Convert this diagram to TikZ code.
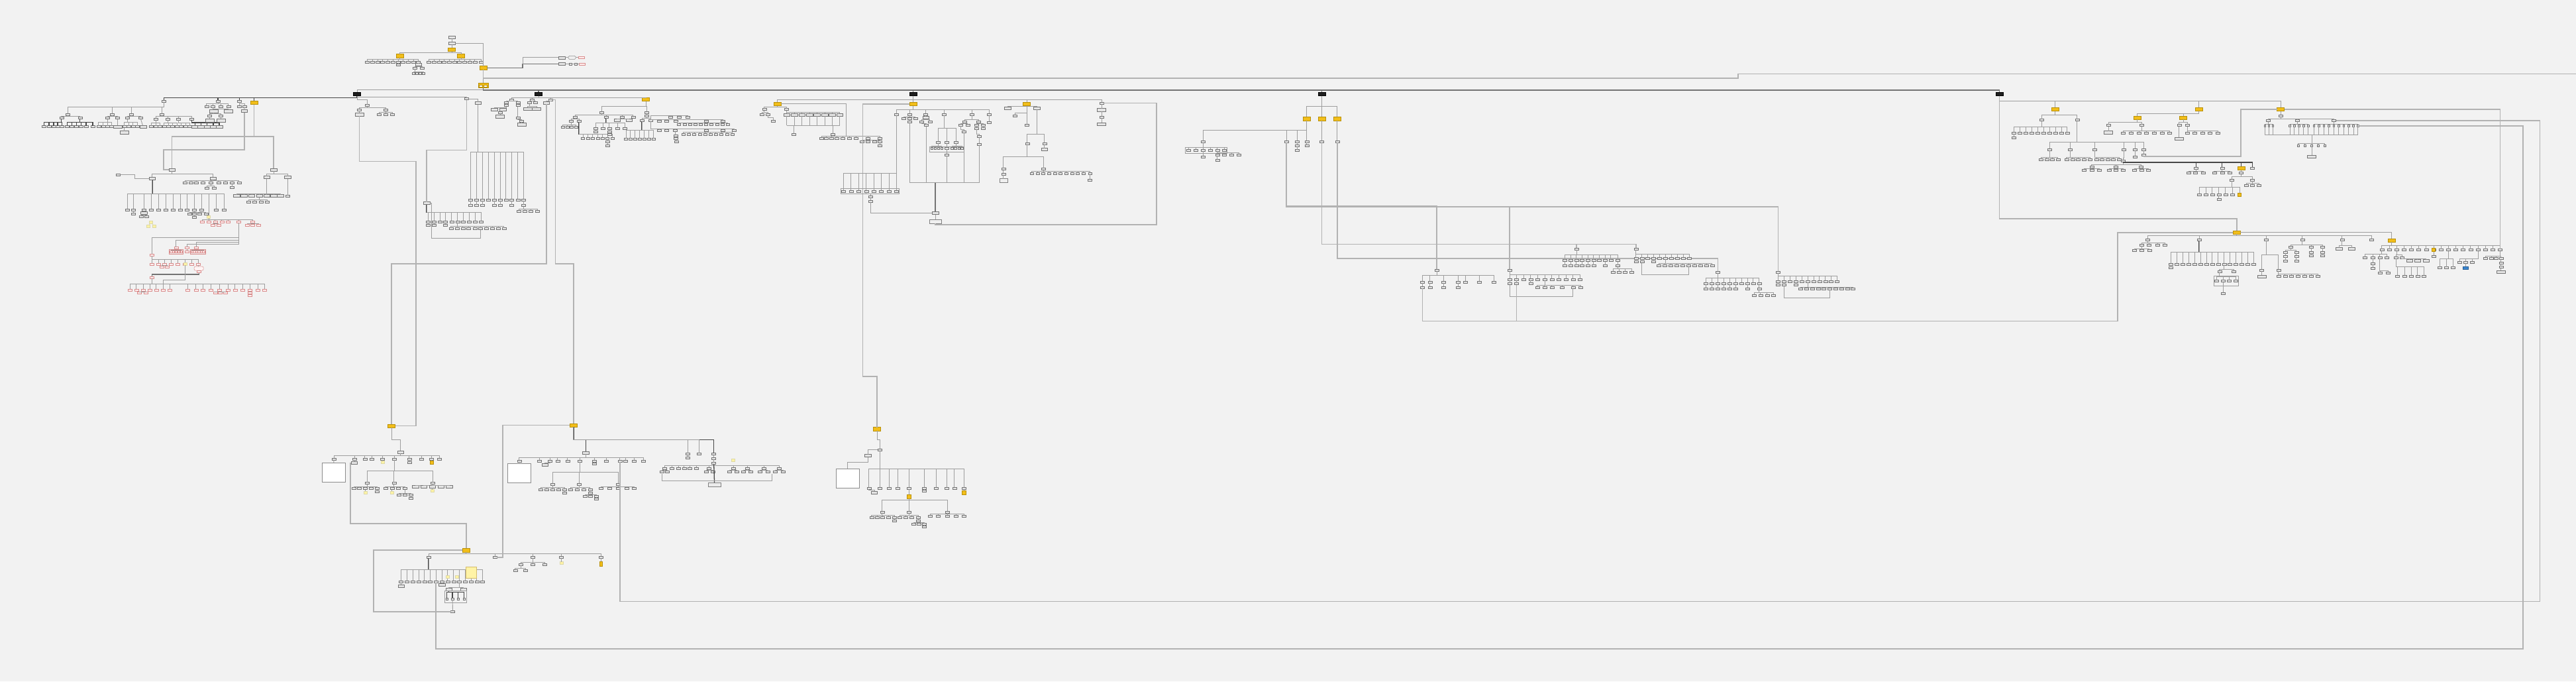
\documentclass[tikz,border=0pt]{standalone}
\definecolor{bgc}{HTML}{F2F2F2}
\definecolor{gold}{HTML}{F2BE1A}
\definecolor{goldd}{HTML}{B8900A}
\definecolor{paley}{HTML}{FFF3A6}
\definecolor{pinkb}{HTML}{D98C8C}
\definecolor{bluen}{HTML}{3A86D0}
\tikzset{
 base/.style={inner sep=0pt, outer sep=0pt, line width=0.5pt},
 sb/.style={base, draw=black!55, fill=black!10, minimum width=6pt, minimum height=3pt},
 wb/.style={sb, minimum width=9.5pt, minimum height=4pt},
 xb/.style={sb, minimum width=13pt, minimum height=4.5pt},
 pb/.style={base, draw=pinkb, fill=red!6, minimum width=6pt, minimum height=3pt},
 yb/.style={base, draw=goldd, fill=gold, minimum width=11pt, minimum height=5.5pt},
 ys/.style={base, draw=goldd, fill=gold, minimum width=5pt, minimum height=5pt},
 py/.style={base, draw=yellow!60!black!40, fill=paley, minimum width=5pt, minimum height=4pt},
 bk/.style={base, draw=black, fill=black!88, minimum width=11pt, minimum height=5.5pt},
 tbx/.style={base, draw=black!45, fill=white, minimum width=35pt, minimum height=29pt},
 ln/.style={draw=black!38, line width=0.9pt},
 dk/.style={draw=black!72, line width=1.3pt},
 lg/.style={draw=black!30, line width=1.6pt},
 md/.style={draw=black!55, line width=1.3pt},
}
\newcommand\kids[7][ln]{%
  \foreach \xx [count=\ii] in {#6}{%
    \node[#7] (#2-\ii) at (\xx,#5) {};
    \draw[#1] (#3) |- (\xx,#4) -- (#2-\ii);
  }}
\newcommand\vk[5][ln]{\node[#5] (#2) at (#4) {}; \draw[#1] (#3) -- (#2);}
\begin{document}
\begin{tikzpicture}[x=2.4802pt,y=-2.4802pt]
\fill[bgc] (0,0) rectangle (1568,414.48);
\useasboundingbox (0,0) rectangle (1568,414.48);
% ---------------- top
\node[wb] (t0) at (275,22.6) {};
\node[wb] (t1) at (275,26.2) {};
\node[yb] (ty) at (275,30.2) {};
\draw[ln] (t0)--(t1); \draw[ln] (t1)--(ty);
\kids{tk}{ty}{32.2}{34}{243.5,280.6}{yb}
\kids{tl}{tk-1}{36.2}{37.6}{223.5,226.7,229.8,232.9,236,239.1,242.3,245.4,248.5,251.6,254.7}{sb}
\kids{tr}{tk-2}{36.2}{37.6}{261.1,264.2,267.3,270.4,273.5,276.6,279.7,282.8,285.9,289,293}{sb}
\vk{tl7a}{tl-7}{242.3,39.6}{sb}
\vk{tlx1}{tl-11}{254.7,39.4}{wb}
\kids{tlx}{tlx1}{40.4}{41.3}{252.5,256.9}{sb}
\kids{tly}{tlx-1}{43.6}{44.8}{251.7,253.7,255.8,257.8}{sb,minimum width=4.5pt}
\node[yb] (tm) at (294.1,41.3) {};
\draw[ln] (t1) -| (tm);
\node[yb, minimum width=15pt, minimum height=7pt] (td) at (294.1,52) {};
\node[base,fill=white,draw=goldd,minimum width=5pt,minimum height=3pt] (td1) at (292.6,52.4) {};
\node[base,fill=white,draw=goldd,minimum width=5pt,minimum height=3pt] (td2) at (295.6,52.4) {};
\draw[ln] (tm) -- (td);
\coordinate (edgeR) at (1568,45);
\draw[lg] (tm) |- (1058,47.5) |- (edgeR);
\node[wb] (r1) at (342,35) {};
\node[base,draw=black!45,fill=black!6,rounded corners=1.5pt,minimum width=11pt,minimum height=5pt] (r1b) at (348.2,35) {};
\node[pb,minimum width=9pt,minimum height=3.5pt] (r1c) at (353.8,35) {};
\node[wb] (r2) at (342,39) {};
\node[sb,minimum width=4pt] (r2b) at (347.3,39) {};
\node[sb,minimum width=4pt] (r2c) at (350.6,39) {};
\node[pb,minimum width=9pt,minimum height=3.5pt] (r2d) at (354.4,39) {};
\coordinate (jtm) at (318.1,39);
\draw[md] (tm) -| (jtm) -- (r2);
\draw[ln] (jtm) |- (r1);
\draw[ln] (r1)--(r1b)--(r1c); \draw[ln] (r2)--(r2b)--(r2c)--(r2d);
% ---------------- main bus
\node[bk] (b1) at (217.3,57.2) {};
\node[bk] (b2) at (327.8,57.2) {};
\node[bk] (b3) at (555.8,57.2) {};
\node[bk] (b4) at (804.5,57.2) {};
\node[bk] (b5) at (1217,57.2) {};
\draw[ln] (td) |- (217.3,54.8) -- (b1);
\foreach \b/\x in {b2/327.8,b3/555.8,b4/804.5,b5/1217} {\draw[md] (td) |- (\x,54.8) -- (\b);}
% ---------------- B1 far left
\kids[dk]{fl}{b1}{59.4}{61.4}{99.8,132.7,145.8}{sb}
\node[yb] (y1) at (154.6,62.4) {};
\draw[dk] (b1) |- (154.6,59.4) -- (y1);
\kids{fa}{fl-1}{65.2}{69.6}{41.4,68.3,80,98.4}{sb}
\kids{fb}{fa-1}{70.6}{71.8}{37.4,48.7}{sb}
\kids[dk]{fc}{fb-1}{74.4}{77.1}{26.9,29.8,32.6,35.1,37.6}{sb}
\kids[dk]{fd}{fb-2}{74.4}{77.1}{41,43.8,46.6,49.4,52.4,56.5}{sb}
\kids{fe}{fa-2}{70.6}{71.8}{65.6,71.5}{sb}
\kids{ff}{fe-1}{74.4}{77.1}{60,62.8,65.4,68}{sb}
\vk{fg}{fe-2}{71.5,77.1}{xb}
\kids{fh}{fa-3}{70.6}{71.8}{77.7,85.5}{sb}
\kids{fi}{fh-1}{74.4}{77.1}{75.7,78.4,81,83.6}{sb}
\vk{fi1a}{fi-1}{75.7,80.6}{xb}
\vk{fj}{fh-2}{87.1,77.1}{wb}
\kids{fk}{fa-4}{70.8}{72.3}{94.9,102.2,108.6,116.7}{sb}
\kids{fm}{fk-1}{74.6}{77.1}{92.2,94.8,97.4}{sb}
\kids{fn}{fk-2}{74.6}{77.1}{99.9,102.5,105.1,107.7}{sb}
\kids{fo}{fk-3}{74.6}{77.1}{110.3,112.9,115.5}{sb}
\kids[dk]{fp}{fk-4}{74.6}{77.1}{118.7,122.3,126.1,129.8,133.5}{wb}
\kids{fq}{fl-2}{63.2}{64.8}{125.7,129.7,134.4,139}{sb}
\kids{fr}{fq-2}{66.3}{67.6}{130.1,138.8}{xb}
\kids{fs}{fr-1}{69.2}{70.5}{127.7,134.4}{sb}
\vk{ft1}{fs-1}{127.7,73.2}{xb}
\vk{ft2}{fs-2}{134.4,73.2}{xb}
\kids{fu}{fl-3}{63.2}{64.8}{145.8,148.8}{sb}
\vk{fv}{fu-2}{148.7,67.6}{wb}
\node[wb] (n1) at (104.7,103.3) {};
\node[wb] (n2) at (166.6,103.3) {};
\draw[lg] (fv) |- (99.7,91.1) |- (n1);
\draw[lg] (y1) |- (104.7,83) -- (n1);
\draw[lg] (y1) |- (166.6,83) -- (n2);
% region under n1
\kids{nk}{n1}{106}{108.6}{92.7,129.7}{wb}
\node[sb] (l0) at (71.9,106.4) {};
\draw[ln] (l0) -| (82,108.6) -- (nk-1);
\draw[dk] (nk-1) -- (92.7,118);
\kids{na}{nk-1}{118}{127.7}{77.7,81.3,87.6,92,96.5,100.8,105.5,109.7,114,118.3,122.6,131.7,136.4}{sb}
\vk{na2a}{na-2}{81.3,130.1}{sb}
\vk{na3a}{na-3}{87.6,129.6}{wb}
\kids{na3b}{na3a}{130.8}{131.6}{86,89.4}{sb}
\kids{naxa}{na-10}{129}{130.1}{115.6,118.3,121.6,125.3}{sb}
\vk{naxb}{naxa-2}{118.3,132}{sb}
\kids{a3}{nk-1}{118}{132}{127}{py}
\node[py] (pyt1) at (92,135.3) {};
\node[py] (pyt2) at (90.2,137.4) {};
\node[py] (pyt3) at (93.8,137.4) {};
\draw[ln,draw=yellow!50!black!30] (pyt1)--(pyt2) (pyt1)--(pyt3);
\kids{nb}{nk-2}{110}{111.3}{112.5,116.2,119.6,123.6,128.3,133,137.1,141.4,145.5}{sb}
\kids{nb5}{nb-5}{113.2}{114.5}{126,130.4}{sb}
\vk{nb8}{nb-8}{141.4,114.2}{sb}
\kids{nm}{n2}{105.9}{107.9}{162.3,175}{wb}
\draw[dk] (nm-1) -- (162.3,117.8);
\kids{nn}{nm-1}{117.8}{119.2}{144.1,148.5,153.2,157.9,162.3,166.6,170.6}{wb}
\kids{no}{nn-4}{121.6}{123}{151.2,155,158.8,162.6}{sb}
\vk{np}{nm-2}{175,119.4}{sb}
% pink part
\kids{pk}{a3-1}{133.6}{134.9}{123,127,131,135,138.8,145.2,153.9}{pb}
\kids{pk3}{pk-3}{136}{136.9}{129.5,133}{pb}
\kids{pk7}{pk-7}{136}{136.9}{150.5,153.9,157.3}{pb}
\node[pb] (q0) at (92.5,155.2) {};
\node[pb] (q1) at (107.2,150.8) {};
\node[pb] (q2) at (114,150.8) {};
\node[pb] (q3) at (119.6,150.8) {};
\draw[ln] (pk-6) |- (92.5,144.6) -- (q0);
\draw[ln] (pk-6) |- (107.2,146) -- (q1);
\draw[ln] (pk-6) |- (119.6,147.4) -- (q3);
\draw[ln] (pk-6) |- (114,148.6) -- (q2);
\kids{qa}{q1}{152.1}{153.2}{104.1,105.6,107.2,108.8,110.3}{pb,minimum width=3.5pt}
\draw[ln,draw=pinkb] (103,151.6) rectangle (111.4,154.4);
\kids{qc}{q3}{152.1}{153.2}{116.9,118.3,119.7,121.1,122.5,123.9}{pb,minimum width=3.5pt}
\draw[ln,draw=pinkb] (115.8,151.6) rectangle (125,154.4);
\vk{qb}{q2}{114,153.2}{pb}
\draw[dk] (q0) -- (92.5,157.9);
\kids{qk}{q0}{157.9}{160.6}{92.5,96.5,100.1,104.1,108.2,112.6,116.7,120.7}{pb}
\node[py] (qk6y) at (112.6,160.6) {};
\kids{qk3}{qk-3}{161.6}{162.5}{98.4,101.8}{pb}
\node[base,draw=pinkb,fill=red!4,rounded corners=2pt,minimum width=14pt,minimum height=6pt] (qe) at (121,163.3) {};
\draw[ln] (qk-8) -- (qe);
\vk{qf}{qe}{121.2,165.4}{pb}
\node[pb] (q4) at (92.5,168.7) {};
\draw[md] (qf) |- (92.5,166.9) -- (q4);
\draw[dk] (q4) -- (92.5,172.7);
\kids{qq}{q4}{172.7}{176.5}{79.3,83,87.3,91.1,95.1,99.2,103.5,114.2,119.3,123.6,128.3,133.7,138.7,143.1,147.6,152.1,156.9,161}{pb}
\draw[ln] (qk6y) |- (99.2,170.5) -- (qq-6);
\kids{qq3}{qq-3}{177.5}{178.3}{84.9,88.7}{pb}
\kids{qq12}{qq-12}{177.5}{178.3}{131,134.1,137.2}{pb}
\vk{qq16a}{qq-16}{152.1,178.3}{pb}
\vk{qq16b}{qq16a}{152.1,179.9}{pb}
% ---------------- B1 right children
\kids{c}{b1}{60.7}{64.2}{223.5}{sb}
\kids{ck}{c-1}{65.4}{66.8}{218.7,234.8}{sb}
\vk{ck1a}{ck-1}{218.7,69.6}{xb}
\kids{ck2}{ck-2}{68.3}{69.5}{230.8,234.8,238.8}{sb}
\node[yb] (yl) at (238.3,259.1) {};
\draw[lg] (ck1a) |- (253.1,98.1) |- (yl);
\kids{d}{b1}{58.9}{60.1}{284}{sb}
\node[wb] (d2) at (290.9,62.7) {};
\draw[ln] (d-1) -| (d2);
\node[wb] (fnd) at (259.7,123.6) {};
\draw[lg] (d-1) |- (259.7,91.4) -- (fnd);
\draw[dk] (d2) -- (290.9,92.5);
\kids{dd}{d2}{92.5}{121.6}{286.5,290,293.7,297.3,300.8,304.4,308,311.5,315.2,318.8}{sb}
\foreach \i/\x in {1/286.5,2/290,3/293.7,5/300.8,6/304.4,8/311.5} {\vk{dds\i}{dd-\i}{\x,125}{sb}}
\vk{dd10a}{dd-10}{318.8,125}{sb}
\kids{ddt}{dd10a}{127}{128.6}{315.9,319.6,323.2,327}{sb}
\draw[dk] (fnd) -- (259.7,129.4);
\kids{g}{fnd}{129.4}{134.8}{260.7,264.1,267.7,271.2,274.9,278.5,282,285.6,289.2,293}{sb}
\vk{g1a}{g-1}{260.7,136.8}{sb}
\vk{g2a}{g-2}{264.1,136.8}{sb}
\vk{g4a}{g-4}{271.2,136.8}{sb}
\draw[dk] (g-6) -- (278.5,137.6);
\kids{gg}{g-6}{137.6}{139.1}{274.5,278.2,281.8,285.3,289,292.6,296.1,299.7,303.3,306.8}{sb}
\draw[ln] (fnd.east) -| (262.5,145.1) -| (gg-6);
% ---------------- B2
\kids{e}{b2}{59.3}{60.6}{311.4,324,335.1}{sb}
\kids{ea}{e-1}{61.5}{62.5}{308.2,315.2}{sb}
\vk{ea1b}{ea-1}{308.2,64.2}{sb}
\kids{eb}{ea1b}{65.4}{66.5}{300.8,306.2}{wb}
\kids{ec}{eb-2}{67.6}{68.5}{304.4}{sb}
\vk{ed}{ec-1}{304.4,70.8}{xb}
\vk{ea2b}{ea-2}{315.2,64.2}{sb}
\vk{ea2c}{ea2b}{315.2,71.5}{sb}
\kids{ea2d}{ea2c}{72.6}{73.5}{317.5}{sb}
\vk{ea2e}{ea2d-1}{317.5,75.7}{xb}
\kids{ef}{e-2}{61.5}{62.5}{322.2,326}{sb}
\kids{eg}{ef-1}{64.8}{66.2}{321.2,326.6}{xb}
\kids{e3b}{e-3}{61.6}{62.6}{332.6}{wb}
\draw[lg] (e3b-1) |- (238.3,160.5) -- (yl);
\node[yb] (ym) at (349.1,258.7) {};
\draw[lg] (e-3) -| (338,160.5) -| (ym);
% ---------------- Y2
\node[yb] (y2) at (393.2,60.4) {};
\draw[ln] (b2) |- (393.2,59.3) -- (y2);
\kids{h}{y2}{64.8}{68.5}{366.2,393.8}{sb}
\kids{ha}{h-1}{70}{71.1}{350.1,368.9,378.7,385.4}{sb}
\kids{hb}{ha-1}{72.4}{73.5}{347.8,352.4}{sb}
\kids{hc}{hb-1}{75.9}{77.3}{342.6,345.3,348,350.7}{sb,minimum width=5pt}
\draw[dk] (hb-2) -- (352.4,81.7);
\kids{hd}{hb-2}{81.7}{84.1}{354.8,357.8,360.8,363.8,366.8,369.8,372.8}{sb,minimum width=5pt}
\vk{hd6a}{hd-6}{369.8,86.3}{sb}
\vk{hd6b}{hd6a}{369.8,88.4}{sb}
\draw[dk] (ha-2) -- (368.9,74.6);
\kids{he}{ha-2}{74.6}{78.2}{362.6,366.9,370.9,376,380.3}{sb}
\vk{he1a}{he-1}{362.6,80}{sb}
\vk{he3a}{he-3}{370.9,80}{sb}
\vk{he3b}{he3a}{370.9,81.8}{sb}
\kids{hf}{ha-3}{72.2}{73.2}{375.6,383}{wb}
\vk{hg}{h-2}{393.8,70.5}{sb}
\kids{hh}{hg}{72}{73.2}{390.7,396.1}{sb}
\draw[dk] (hh-1) -- (390.7,79.3);
\kids{hi}{hh-1}{79.3}{84.7}{381,383.8,386.6,389.4,392.2,395,397.8}{sb,minimum width=5pt}
\kids{hj}{hh-2}{72.6}{73.5}{401.2,405.9,411.2,430,440.1}{sb}
\kids{hk}{hj-4}{74.7}{75.7}{413.3,416.6,419.9,423.2,426.5,429.8,433.1,436.4,439.7,443}{sb,minimum width=5pt}
\kids{hl}{hh-2}{78.5}{79.5}{401.2,405.9,411,430,440.1,447}{sb}
\kids{hm}{hl-4}{80.6}{81.6}{416,419.3,422.6,425.9,429.2,432.5,435.8,439.1,442.4,445.7}{sb,minimum width=5pt}
\vk{hn1}{hl-3}{411.2,82.6}{sb}
\vk{hn2}{hn1}{411.2,84.2}{sb}
\vk{hn3}{hn2}{411.6,86}{sb}
\kids{ho}{hh-2}{70.3}{71.2}{408.3,413.3,418.6}{sb}
% ---------------- B3
\kids{b3k}{b3}{60.7}{63.2}{473.3,555.8,625}{yb}
\kids{k}{b3}{60.7}{62.7}{670.5}{sb}
\kids{ia}{b3k-1}{65.2}{66.6}{465.2,478.8}{sb}
\kids{ib}{ia-1}{68.4}{69.5}{463.7,467.5}{sb}
\kids{ic}{ib-2}{71.5}{73.6}{470.6}{sb}
\draw[dk] (ia-2) -- (478.8,68.3);
\kids{id}{ia-2}{68.3}{69.7}{478.8,483.5,488.1,492.7,497.3,502,506.6,511.2}{wb}
\coordinate (idbL) at (478.8,76.3);
\coordinate (idbR) at (511.2,76.3);
\draw[dk] (idbL) -- (idbR);
\foreach \i in {1,...,8} {\draw[ln] (id-\i) |- (idbL);}
\kids{ie}{id-2}{76.3}{81.7}{483}{sb}
\kids{if}{id-7}{76.3}{81.7}{506.9}{sb}
\kids{ig}{if-1}{83}{84.1}{500,503,506.1,509.5,513.1,517,521.1,528.2,535.5}{sb}
\kids{ih}{ig-8}{85.3}{86.3}{524.6,528.4,532.4,535.5}{sb}
\vk{ih4a}{ih-4}{535.5,88.4}{sb}
\coordinate (igb) at (515.1,83);
\draw[ln] (b3k-1) -| (igb);
\node[yb] (yr2) at (533.8,261) {};
\draw[lg] (b3k-2) -| (525.1,229) -| (yr2);
\kids{ja}{b3k-2}{66.6}{69.6}{545.8,553.7,563.5,574.7,591.5,602.1}{sb}
\draw[dk] (ja-1) |- (513.5,105.5);
\kids{jb}{ja-1}{105.5}{116.4}{513.5,518,522.8,527.3,531.9,536.5,541.2,545.8}{sb}
\draw[ln] (511.8,114.8) rectangle (547.5,118);
\kids{jc}{jb-4}{118}{119.6}{529.8}{sb}
\vk{jc2}{jc-1}{529.8,122.3}{sb}
\node[wb] (jz1) at (569.3,129.7) {};
\node[base,draw=black!50,fill=black!6,minimum width=18pt,minimum height=6.5pt] (jz2) at (569.3,134.7) {};
\draw[ln] (jc2) |- (jz1);
\kids{jd}{ja-2}{71}{71.9}{550.1,553.7,557.1}{sb}
\vk{jd2a}{jd-2}{553.7,73.9}{sb}
\vk{je}{ja-3}{563.5,71.6}{wb}
\kids{jf}{je}{72.8}{73.9}{560.9,566}{sb}
\kids{jg}{jf-1}{75.2}{76.3}{563.7}{sb}
\kids{jh}{ja-4}{77.9}{86.4}{571,576.4,581.8}{sb}
\kids{ji}{jh-1}{88.8}{90.3}{567.1,569.1,571.3,573.3}{sb,minimum width=3.5pt}
\vk{jj}{jh-2}{576.4,90.3}{sb}
\kids{jk}{jh-3}{88.8}{90.3}{579.5,581.5,583.8,585.6}{sb,minimum width=3.5pt}
\draw[ln] (566,89.2) rectangle (587,92.5);
\vk{jl}{jj}{576.4,94.1}{sb}
\kids{jm}{ja-5}{72.6}{73.9}{587.2,595.6}{sb}
\kids{jn}{jm-1}{75}{75.9}{584.8,589}{sb}
\kids{jo}{jn-1}{78.8}{80.2}{586.9}{sb}
\kids{jp}{jm-2}{75}{76.1}{594.3,598.4}{sb}
\vk{jp1}{jp-1}{594.3,78.2}{sb}
\vk{jp2}{jp-2}{598.4,78.2}{sb}
\kids{jq}{jp1}{81.5}{83}{596}{sb}
\vk{jr}{jq-1}{596,87.7}{sb}
\vk{js}{ja-6}{602.1,74.3}{sb}
\coordinate (jb0) at (569.3,111.1);
\foreach \n in {jd2a,jg-1,jl,jo-1,jr} {\draw[ln] (\n) |- (jb0);}
\draw[md] (jb0) -- (jz1);
\draw[ln] (jz1) -- (jz2);
\draw[lg] (k-1) -| (704,136.8) -| (jz2);
\kids{l}{b3k-3}{64.6}{65.8}{613.4,631.1}{wb}
\kids{l3}{b3k-3}{68.8}{70.3}{617.7}{sb}
\vk{l4}{b3k-3}{625,76.2}{sb}
\draw[dk] (l-2) -- (631.1,81.7);
\kids{lm}{l-2}{81.7}{87.3}{625.3,635.8}{sb}
\vk{lm2a}{lm-2}{635.8,91}{wb}
\kids{lo}{lm-1}{95.4}{102.9}{610.8,635.3}{sb}
\vk{lo1a}{lo-1}{610.8,105.9}{sb}
\node[base,draw=black!50,fill=black!6,minimum width=12pt,minimum height=6pt] (lo1b) at (610.8,109.9) {};
\draw[ln] (lo1a)--(lo1b);
\kids{lp}{lo-2}{104.2}{105.4}{628,631.5,635,638.5,642,645.5,649,652.5,656,659.5,663.4}{sb,minimum width=5pt}
\vk{lp11}{lp-11}{663.4,109.5}{sb}
\vk{k2}{k-1}{670.5,66.9}{xb}
\vk{k3}{k2}{670.5,71.2}{sb}
\vk{k4}{k3}{670.5,75.5}{xb}
% ---------------- B4
\kids{m}{b4}{64.8}{72.2}{795.4,804.5,814}{yb}
\draw[dk] (m-1) -- (795.4,79.3);
\kids{ma}{m-1}{79.3}{86}{732.4,783,789.6,795.4}{sb}
\draw[dk] (ma-1) -- (732.4,89.5);
\kids{mb}{ma-1}{89.5}{91.5}{723.5,728,732.4,736.6,741,745.2}{sb}
\vk{mb3a}{mb-3}{732.4,95.4}{sb}
\kids{mc}{mb-5}{93.1}{94.3}{741,745.2,749.7,754.2}{sb}
\vk{mc1a}{mc-1}{741,97.6}{sb}
\draw[ln] (721.5,89.8) rectangle (747,93.3);
\vk{ma3a}{ma-3}{789.6,88.7}{sb}
\vk{ma3b}{ma3a}{789.6,91.6}{sb}
\vk{ma4a}{ma-4}{795.4,88.7}{sb}
\vk{mm}{m-2}{804.5,86}{sb}
\vk{mn}{m-3}{814,86}{sb}
\node[sb] (na0) at (874.6,164.2) {};
\node[sb] (nb0) at (918.9,164.2) {};
\node[sb] (nc0) at (959.6,151.5) {};
\node[sb] (nd0) at (995.8,151.5) {};
\node[sb] (ne0) at (1082.3,165.7) {};
\node[sb] (nf0) at (1045.6,165.7) {};
\draw[lg] (ma-2) |- (874.6,125.4) -- (na0);
\draw[lg] (ma-2) |- (918.9,125.6) -- (nb0);
\draw[lg] (ma-2) |- (1082.3,125.9) -- (ne0);
\draw[lg] (mm) |- (959.6,148.5) -- (nc0);
\draw[lg] (mm) |- (995.8,148.5) -- (nd0);
\draw[lg] (mn) |- (1045.6,157.2) -- (nf0);
\kids{naa}{na0}{167.7}{171.6}{865.9,870.4,878.8,887.4,891.9,900.6,909.2}{sb}
\foreach \i/\x in {1/865.9,2/870.4,3/878.8,4/887.4} {\vk{nas\i}{naa-\i}{\x,174.7}{sb}}
\kids{nba}{nb0}{167.3}{170.1}{918.9,923.1,927.4,931.7,936,940.3,944.6,948.9,953.2,957.5,961.8}{sb}
\vk{nbs1}{nba-1}{918.9,172.6}{sb}
\vk{nbs2}{nba-2}{923.1,172.6}{sb}
\vk{nbs4}{nba-4}{931.7,172.6}{sb}
\kids{nbb}{nba-6}{173.4}{174.7}{935.7,940.2,944.6,950.9,957.5,962}{sb}
\draw[ln] (nbs1) |- (957.5,180.4) -- (nbb-5);
\kids{nca}{nc0}{155}{158.5}{952.5,956,959.5,963,966.5,970,973.5,977,980.5,984.8}{sb}
\foreach \i/\x in {1/952.5,2/956,3/959.5,4/963,5/966.5,6/970,8/977} {\vk{ncs\i}{nca-\i}{\x,161.7}{sb}}
\vk{ncs10}{nca-10}{984.8,161.7}{sb}
\kids{nct}{ncs10}{163.6}{165.6}{981.9,985.5,989.2,993.1}{sb}
\kids{nda}{nd0}{154.6}{157.1}{995.8,999.4,1003,1006.6,1010.2,1013.8,1017.4,1021,1024.6,1028.1}{sb}
\vk{nds1}{nda-1}{995.8,159.3}{sb}
\vk{nds2}{nda-2}{999.4,159.3}{sb}
\vk{nds4}{nda-4}{1006.6,159.3}{sb}
\kids{ndb}{nda-6}{160.4}{161.5}{1009.7,1013.3,1017,1020.6,1024.1,1027.8,1031.5,1034.9,1038.6,1042.2}{sb}
\draw[ln] (nds2) |- (1027.8,167.3) -- (ndb-6);
\kids{nfa}{nf0}{169}{172.4}{1038.3,1042,1045.6,1049.2,1052.8,1056.4,1060,1063.6,1067.2,1070.8}{sb}
\foreach \i/\x in {1/1038.3,2/1042,3/1045.6,4/1049.2,5/1052.8,6/1056.4,8/1063.6} {\vk{nfs\i}{nfa-\i}{\x,175.5}{sb}}
\vk{nfs10}{nfa-10}{1070.8,175.5}{sb}
\kids{nft}{nfs10}{178}{179.7}{1067.7,1071.6,1075.6,1079.5}{sb}
\kids{nea}{ne0}{168}{171.2}{1082.3,1085.9,1089.5,1093.1,1096.7,1100.3,1103.9,1107.5,1111.1,1114.7,1118.2}{sb}
\vk{nes1}{nea-1}{1082.3,173.4}{sb}
\vk{nes2}{nea-2}{1085.9,173.4}{sb}
\vk{nes4}{nea-4}{1093.1,173.4}{sb}
\kids{neb}{nea-6}{174.6}{175.7}{1096,1099.6,1103.1,1106.7,1110.2,1113.8,1117.3,1120.8,1124.4,1128}{sb}
\draw[ln] (nes2) |- (1113.8,181.4) -- (neb-6);
\node[yb] (yr) at (1361.5,141.4) {};
\coordinate (botc) at (1289,195.3);
\draw[lg] (nas1) |- (botc) |- (yr);
\draw[lg] (nbs2) |- (botc);
% ---------------- B5
\kids{o}{b5}{61.4}{66.5}{1250.8,1338.3,1388.2}{yb}
\draw[lg] (b5) |- (1361.5,133) -- (yr);
\kids{oa}{o-1}{69.9}{73}{1242.7,1264.3}{sb}
\draw[dk] (oa-1) -- (1242.7,77.3);
\kids{ob}{oa-1}{77.3}{81}{1225.9,1229.5,1233.1,1236.7,1240.3,1243.9,1247.5,1251.1,1254.7,1258.3}{sb}
\vk{ob1a}{ob-1}{1225.9,83.7}{sb}
\kids{oc}{oa-2}{86.4}{91.1}{1247.5,1260.2,1275,1292.8,1299.6,1305}{sb}
\kids{od}{oc-1}{95.6}{97}{1242.4,1245.8,1249.2,1252.6}{sb}
\kids{oe}{oc-2}{95.6}{97}{1257.9,1261.5,1265,1268.6,1272.2}{sb}
\kids{of}{oc-3}{95.6}{97}{1276.2,1279.6,1283,1286.4,1289.8}{sb}
\kids{og}{oc-4}{96}{97.8}{1292.3}{sb}
\kids{oh}{og-1}{100}{101.5}{1273.2,1288,1303.2}{sb}
\kids{oi1}{oh-1}{102.6}{103.6}{1268.6,1273.2,1277.8}{sb}
\kids{oi2}{oh-2}{102.6}{103.6}{1283.8,1288,1292.2}{sb}
\kids{oi3}{oh-3}{102.6}{103.6}{1299.2,1303.4,1307.6}{sb}
\kids[dk]{oj}{og-1}{98.8}{102.4}{1336.8,1352.6,1370.9}{sb}
\kids[dk]{ojy}{og-1}{98.8}{102.4}{1364.1}{yb}
\kids{ok1}{oj-1}{104.2}{105.2}{1332.2,1336.4,1341.2}{sb}
\kids{ok2}{oj-2}{104.2}{105.2}{1347.8,1352.6,1357.4}{sb}
\vk{ol}{ojy-1}{1364.1,105.3}{sb}
\kids{om}{ol}{107.5}{109.5}{1358.4,1371.1}{sb}
\draw[dk] (om-1) -- (1358.4,113.9);
\kids{on}{om-1}{113.9}{118.5}{1338.6,1342.6,1346.6,1350.6,1354.6,1358.8}{sb}
\kids{ony}{om-1}{113.9}{118.5}{1363.2}{ys}
\vk{on4a}{on-4}{1350.6,121.2}{sb}
\kids{oo}{om-2}{111.5}{112.6}{1367.3,1371.1,1374.9}{sb}
\vk{op}{oc-5}{1299.6,95.4}{sb}
\vk{oq}{oc-6}{1305,94.2}{sb}
\draw[lg] (oq) |- (1364,95.2) |- (o-3);
\kids{p}{o-2}{69}{71.6}{1300.9,1328.9}{yb}
\kids{pa}{p-1}{74.5}{76.3}{1283.4,1303.5}{sb}
\vk{pa1a}{pa-1}{1283.4,80.6}{xb}
\kids{pq}{pa-2}{79.7}{81}{1292.5,1297.2,1301.9,1306.6,1311.3,1316,1320.7}{sb}
\kids{pc}{p-2}{74.5}{76.3}{1326.4,1331.4}{sb}
\vk{pc1a}{pc-1}{1326.4,84.3}{xb}
\draw[dk] (pc-2) -- (1331.4,79.7);
\kids{pd}{pc-2}{79.7}{81}{1331.4,1336,1340.6,1345.2,1350}{sb}
\vk{ra0}{o-3}{1388.2,70.3}{sb}
\kids{ra}{ra0}{72.2}{73.4}{1380.5,1398.4,1420.7}{sb}
\kids{rb}{ra-1}{75.4}{76.6}{1378.5,1381,1383.5}{sb,minimum width=2.5pt}
\kids{rc}{ra-2}{75.4}{76.6}{1393.8,1396.6,1399.4,1402.2,1405}{sb,minimum width=2.5pt}
\kids{rd}{ra-3}{75.4}{76.6}{1408.5,1411.5,1414.5,1417.5,1420.5,1423.5,1426.5,1429.5,1432.5,1435.3}{sb,minimum width=2.5pt}
\coordinate (rbl) at (1378.5,82.2);
\coordinate (rbr) at (1435.3,82.2);
\draw[ln] (rbl) -- (rbr);
\foreach \n in {rb-1,rb-2,rb-3,rc-1,rc-2,rc-3,rc-4,rc-5,rd-1,rd-2,rd-3,rd-4,rd-5,rd-6,rd-7,rd-8,rd-9,rd-10} {\draw[ln] (\n) |- (rbl);}
\coordinate (re0) at (1407.2,82.2);
\kids{rf}{re0}{87.3}{88.5}{1399,1402.9,1407.2,1411,1414.9}{sb,minimum width=3pt}
\vk{rg}{rf-3}{1407.2,95.3}{xb}
% yr subtree
\kids{s}{yr}{143.5}{145.8}{1307.3,1338.6,1379.3,1401.4,1425.6,1443.4}{sb}
\node[yb] (ys) at (1455.6,146.2) {};
\draw[ln] (yr) -| (ys);
\kids{sa}{s-1}{147.8}{149}{1303.5,1308.1,1313.2,1317.7}{sb}
\kids{sbb}{sa-1}{151.4}{152.5}{1299.2,1303.7,1308.3}{sb}
\draw[dk] (s-2) -- (1338.6,153.5);
\kids{sc}{s-2}{153.5}{160.6}{1321.5,1325.1,1328.7,1332.3,1335.8,1339.4,1343,1346.6,1350.2,1353.8,1357.3,1360.9,1364.5,1368.1,1371.7}{sb}
\vk{sc1a}{sc-1}{1321.5,162.9}{sb}
\kids{sd}{sc-10}{163.8}{165.3}{1351,1359.6}{sb}
\draw[dk] (sd-1) -- (1351,168.5);
\kids{se}{sd-1}{168.5}{171}{1349.3,1353.2,1357,1360.8}{sb}
\draw[ln] (1347.5,167.8) rectangle (1362.6,173.8);
\kids{sf}{se-2}{176.6}{178.5}{1353.3}{sb}
\kids{sg}{s-3}{155.2}{164.2}{1376.7,1386.9}{sb}
\vk{sg1a}{sg-1}{1376.7,168.3}{xb}
\kids{sh}{sg-2}{166.8}{168}{1386.9,1390.9,1394.9,1398.9,1402.9,1406.9,1411}{sb}
\kids{si}{s-4}{148.9}{150.1}{1394.5,1406.8,1413.6}{sb}
\kids{sj}{si-1}{152.3}{153.6}{1391.2,1397.8}{sb}
\vk{sj1}{sj-1}{1391.2,156}{sb}
\vk{sj2}{sj-2}{1397.8,156}{sb}
\vk{sj3}{sj1}{1391.2,158.9}{sb}
\vk{sj4}{sj2}{1397.8,158.9}{sb}
\vk{sk1}{si-2}{1406.8,153.6}{sb}
\vk{sk2}{sk1}{1406.8,155.7}{sb}
\vk{sl1}{si-3}{1413.6,153.6}{sb}
\vk{sl2}{sl1}{1413.6,155.7}{sb}
\kids{sm}{s-5}{149.4}{151.4}{1423.8,1431.4}{wb}
\draw[dk] (ys) -- (1455.6,149.2);
\kids{st}{ys}{149.2}{152.1}{1449.8,1454.3,1458.8,1463.3,1467.8,1472.3,1476.8,1481.3,1485.8,1490.3,1494.8,1499.3,1503.8,1508.3,1512.8,1517.3,1521.8}{sb}
\node[ys] (sty) at (1481.3,152.1) {};
\kids{su}{st-1}{154.5}{156.8}{1439.6,1444.2,1448.6,1452.8}{sb}
\vk{su2a}{su-2}{1444.2,160.2}{sb}
\vk{su2b}{su2a}{1444.2,163}{sb}
\kids{sv}{su-3}{164.7}{166}{1448.9,1453.5}{sb}
\kids{sw}{st-3}{155}{156.8}{1458.4,1462.2}{sb}
\draw[dk] (sw-1) -- (1458.4,162.3);
\kids{sx}{sw-1}{162.3}{168}{1459.4,1463.7,1467.8,1471.6,1475.4}{sb}
\kids{sy}{sw-2}{157.6}{158.6}{1466.6,1471.6,1476.7}{wb}
\vk{sz}{sty}{1481.3,155.8}{sb}
\kids{ta}{st-10}{157.5}{162.9}{1485,1489,1493}{sb}
\kids{tbb}{st-14}{157.4}{159.5}{1497.1,1500.9,1504.7}{sb}
\node[base,draw=bluen!70!black,fill=bluen,minimum width=8pt,minimum height=4pt] (blue) at (1500.9,163) {};
\draw[ln] (tbb-2) -- (blue);
\kids{tc}{st-17}{155.8}{157.2}{1513,1516.5,1519.4,1522.4}{sb}
\vk{tc4a}{tc-4}{1522.4,160}{sb}
\vk{tc4b}{tc4a}{1522.4,162.5}{sb}
\vk{tc4c}{tc4b}{1522.4,165.5}{xb}
\draw[lg] (o-3) -| (st-17);
% ---------------- lower left: YL
\node[wb] (u0) at (243.8,275.1) {};
\draw[ln] (yl) |- (243.8,267.5) -- (u0);
\draw[dk] (u0) -- (243.8,277.3);
\kids{u}{u0}{277.3}{279.2}{203.2,215.7,222.1,226.4,232.9,240,249.1,256.6,262.7,267.3}{sb}
\node[tbx] (utb) at (203.1,287.2) {};
\draw[ln] (u-1) -- (utb);
\vk{u2a}{u-2}{215.7,281.6}{wb}
\node[py] (u5y) at (232.9,281.3) {};
\draw[ln] (u-5)--(u5y);
\vk{u7a}{u-7}{249.1,281.2}{sb}
\node[ys] (u9y) at (262.7,281.4) {};
\draw[ln] (u-9)--(u9y);
\draw[dk] (u-6) -- (240,286.6);
\kids{v}{u-6}{286.6}{294}{223.6,239.8,263.4}{sb}
\kids{va}{v-1}{296}{297.2}{215.3,218.8,222.4,225.9,229.5}{sb}
\node[py] (va3y) at (222.4,299.6) {};
\draw[ln] (va-3)--(va3y);
\vk{va5a}{va-5}{229.5,299.2}{sb}
\kids{vb}{v-2}{296}{297.2}{234.6,238.6,242.5,246.5}{sb}
\node[py] (vb2y) at (238.6,299.7) {};
\draw[ln] (vb-2) -- (vb2y);
\kids{vc}{vb-4}{300.2}{301.2}{242.9,246.5,250}{sb}
\vk{vc3a}{vc-3}{250,302.9}{sb}
\kids{vd}{v-3}{295.3}{296.1}{252.8,258,263.2,268.4,273.5}{wb}
\node[py] (vd3y) at (263.2,298.6) {};
\draw[ln] (vd-3) -- (vd3y);
\node[yb] (ybt) at (283.8,334.7) {};
\draw[lg] (u2a) -| (213.3,318.5) -| (ybt);
% YM
\node[wb] (w0) at (356.5,275.5) {};
\draw[dk] (ym) |- (356.5,267.5) -- (w0);
\node[sb] (x1) at (418.8,276.2) {};
\node[sb] (x2) at (425.4,276.2) {};
\node[sb] (x3) at (434.5,276.2) {};
\draw[dk] (ym) |- (434.5,267.5) -- (x3);
\draw[ln] (ym) |- (418.8,267.5) -- (x1);
\draw[ln] (ym) |- (425.4,267.5) -- (x2);
\kids{w}{w0}{278.2}{280.4}{316,328.2,334.9,339.4,345.5,352.9,361.9,369.2,377.3,380.8,386.1,391.5}{sb}
\node[tbx] (wtb) at (316,287.9) {};
\draw[ln] (w-1) -- (wtb);
\kids{w3a}{w-3}{281.6}{282.6}{331.8}{wb}
\draw[dk] (w-6) -- (352.9,287.4);
\kids{wa}{w-6}{287.4}{294.6}{336.4,352.6,376.4}{sb}
\kids{wb1}{wa-1}{296.4}{297.7}{329.2,332.8,336.4,340,343.6}{sb}
\vk{wb1a}{wb1-5}{343.6,299.8}{sb}
\kids{wc}{wa-2}{296.4}{297.7}{347.4,351.4,355.4,359.2}{sb}
\vk{wc4a}{wc-4}{359.2,299.8}{sb}
\kids{wd}{wc4a}{300.9}{301.9}{356,359.5,363}{sb}
\vk{wd3a}{wd-3}{363,303.6}{sb}
\kids{we}{wa-3}{296}{297}{365.7,371,376.4,381.5,386.1}{sb}
\vk{w7a}{w-7}{361.9,282.2}{sb}
\vk{x1a}{x1}{418.8,278.3}{sb}
\vk{x3a}{x3}{434.5,279}{sb}
\vk{x3b}{x3a}{434.5,281.9}{sb}
\draw[dk] (x3b) -- (434.5,283.3);
\kids{xx}{x3b}{283.3}{285}{404.5,408.9,412.9,416.4,420,423.8,431.4,446.5,455,465,474.4}{sb}
\kids{xs1}{xx-1}{286.2}{287.1}{403,406}{sb}
\kids{xs7}{xx-7}{286.2}{287.1}{430,434}{sb}
\kids{xs8}{xx-8}{286.2}{287.1}{444,448.5}{sb}
\kids{xs9}{xx-9}{286.2}{287.1}{452.5,457}{sb}
\kids{xs10}{xx-10}{286.2}{287.1}{462.5,467.2}{sb}
\kids{xs11}{xx-11}{286.2}{287.1}{472,476.7}{sb}
\node[base,draw=black!50,fill=black!8,minimum width=19pt,minimum height=6pt] (xbig) at (434.9,294.8) {};
\draw[dk] (x3b) -- (xbig);
\draw[ln] (403,288.4) |- (470,292.6) -- (470,288.2);
\node[py] (xpy) at (446.2,279.8) {};
% YB
\node[sb] (z9) at (275.6,372.1) {};
\draw[lg] (ybt) -| (227.5,372.1) -- (z9);
\kids{z}{ybt}{336.9}{339}{260.9,301.3,324.2,341.7,365.8}{sb}
\draw[lg] (ym) -| (305.9,339) -- (z-2);
\draw[dk] (z-1) -- (260.9,346.5);
\kids{za}{z-1}{346.5}{353.8}{244.2,247.7,251.3,254.8,258.4,261.9,265.4,269,272.5,276.1,279.6,283.1,286.7,290.2,293.8}{sb}
\node[base,draw=goldd!60,fill=paley,minimum width=16pt,minimum height=17pt] (znote) at (286.7,348.3) {};
\node[py] (zp1) at (272.5,351) {};
\node[py] (zp2) at (278,351) {};
\vk{za1a}{za-1}{244.2,356.5}{wb}
\vk{za8a}{za-8}{269,355.8}{wb}
\kids{zb}{za-11}{357.6}{358.6}{273.2,282.2}{wb}
\kids[dk]{zc}{zb-1}{360.3}{364.3}{272,275.4,278.9,282.5}{sb,minimum width=3.5pt}
\draw[ln] (270.7,359.6) rectangle (284,366.6);
\draw[ln] (zc-2) -- (z9);
\draw[lg] (za-7) |- (1535.7,394.8) |- (rd-10);
\draw[lg] (w-9) |- (1546,365.9) |- (ra-3);
\kids{zf}{z-3}{342}{343.4}{317,324.2,331.4}{sb}
\kids{zg}{zf-1}{345.6}{346.9}{313.6,319.8}{sb}
\node[py] (z4y) at (341.7,342.6) {};
\draw[ln] (z-4) -- (z4y);
\node[base,draw=goldd,fill=gold,minimum width=4.5pt,minimum height=7pt] (z5y) at (365.8,343) {};
\draw[ln] (z-5)--(z5y);
% YR2
\node[sb] (y0) at (535.6,273.5) {};
\draw[ln] (yr2) |- (535.6,267.5) -- (y0);
\node[wb] (ya) at (528.2,277.2) {};
\draw[ln] (y0) -| (ya);
\node[tbx] (ytb) at (515.9,290.8) {};
\draw[ln] (ya) |- (515.9,281.2) -- (ytb);
\draw[dk] (y0) -- (535.6,285.2);
\kids{yy}{y0}{285.2}{297}{528.9,535.6,541.2,546.3,553.3,562.7,569.9,576.2,580.9,586.7}{sb}
\kids{yy1a}{yy-1}{298.3}{299.5}{532.2}{wb}
\vk{yy6a}{yy-6}{562.7,298.8}{sb}
\node[base,draw=goldd,fill=gold,minimum width=6pt,minimum height=5.5pt] (yy10y) at (586.7,299.6) {};
\draw[ln] (yy-10)--(yy10y);
\node[base,draw=goldd,fill=gold,minimum width=6pt,minimum height=6.5pt] (yy5y) at (553.3,302) {};
\draw[ln] (yy-5) -- (yy5y);
\kids{yz}{yy5y}{304.3}{311.4}{537,553.3,576.6}{sb}
\kids{yza}{yz-1}{313.5}{314.7}{530.5,533.9,537.3,540.9,544.4}{sb}
\vk{yza5}{yza-5}{544.4,316.7}{sb}
\kids{yzb}{yz-2}{313.5}{314.7}{547.7,551.3,555,559}{sb}
\vk{yzb4}{yzb-4}{559,316.9}{sb}
\kids{yzc}{yzb4}{318}{318.9}{556.2,559.4,562.7}{sb}
\vk{yzc3}{yzc-3}{562.7,320.6}{sb}
\kids{yzd}{yz-3}{312.8}{313.8}{566.1,571.2,576.6,582,586.7}{sb}
\end{tikzpicture}
\end{document}
